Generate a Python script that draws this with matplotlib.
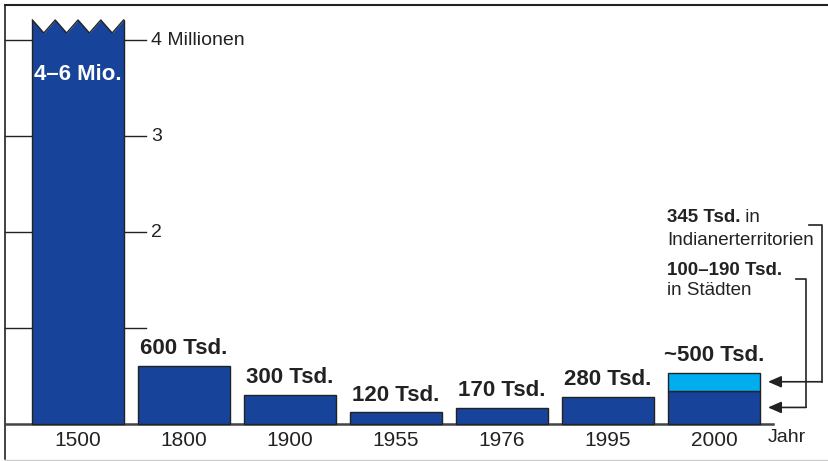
import matplotlib.pyplot as plt
import numpy as np

plt.rcParams['font.family'] = ['Liberation Sans', 'DejaVu Sans']

years = ['1500', '1800', '1900', '1955', '1976', '1995', '2000']
# population in thousands; 1500 is "4-6 Mio." and drawn truncated
values = [5000, 600, 300, 120, 170, 280, 345]
extra_2000 = 190
labels = ['4\u20136 Mio.', '600 Tsd.', '300 Tsd.', '120 Tsd.', '170 Tsd.', '280 Tsd.', '~500 Tsd.']
yticks = [1000, 2000, 3000, 4000]
ytick_labels = ['', '2', '3', '4 Millionen']
note_top = ('345 Tsd.', ' in', 'Indianerterritorien')
note_bottom = ('100\u2013190 Tsd.', 'in Städten')

dark = '#17449a'
light = '#00aeef'
ink = '#222222'

W, H = 829, 461
fig = plt.figure(figsize=(W / 100, H / 100), dpi=100)
ax = fig.add_axes([0, 0, 1, 1])

# axis scaling: 106 px per bar slot, 0.096 px per thousand
xpx, ypx = 106.0, 0.096
xmin = -78 / xpx
ymax = 424 / ypx
ax.set_xlim(xmin, xmin + W / xpx)
ax.set_ylim(ymax - H / ypx, ymax)
ax.axis('off')


def px2x(p):
    return xmin + p / xpx


def px2y(p):
    return ymax - p / ypx


x = np.arange(len(years))
width = 0.86
cap = px2y(20)
heights = [min(v, cap) for v in values]

bars = ax.bar(x, heights, width, color=dark, edgecolor=ink, linewidth=1.0, zorder=3)
ax.bar(x[-1], extra_2000, width, bottom=values[-1], color=light, edgecolor=ink,
       linewidth=1.0, zorder=3)

# zigzag cut at the top of the truncated bar
teeth = 4
left = x[0] - width / 2
zx = np.linspace(left, left + width, 2 * teeth + 1)
zy = np.where(np.arange(2 * teeth + 1) % 2 == 0, cap, px2y(33))
ax.fill_between(zx, zy, px2y(14), color='white', zorder=4, linewidth=0)
ax.plot(zx, zy, color=ink, lw=1.0, zorder=5)

# frame
ax.plot([px2x(5), px2x(W)], [px2y(5), px2y(5)], color=ink, lw=1.5, zorder=1)
ax.plot([px2x(5), px2x(5)], [px2y(5), px2y(459)], color=ink, lw=1.2, zorder=1)
ax.plot([px2x(5), px2x(W)], [px2y(459.5), px2y(459.5)], color='#cccccc', lw=1.0, zorder=1)

# baseline
ax.plot([px2x(5), px2x(773)], [0, 0], color='#444444', lw=1.8, zorder=2)

# y ticks on both sides of the first bar
for yv, lab in zip(yticks, ytick_labels):
    ax.plot([px2x(5), left], [yv, yv], color=ink, lw=1.0, zorder=2)
    ax.plot([left + width, px2x(146)], [yv, yv], color=ink, lw=1.0, zorder=2)
    if lab:
        ax.text(px2x(151), yv, lab, ha='left', va='center', fontsize=14, color=ink)

# x labels
for xi, yr in zip(x, years):
    ax.text(xi, px2y(440), yr, ha='center', va='center', fontsize=15, color=ink)
ax.text(px2x(768), px2y(437), 'Jahr', ha='left', va='center', fontsize=14, color=ink)

# value labels
ax.text(x[0], px2y(75), labels[0], ha='center', va='center', fontsize=16,
        fontweight='bold', color='white', zorder=6)
tops = heights[:-1] + [values[-1] + extra_2000]
for xi, top, lab in list(zip(x, tops, labels))[1:]:
    ax.annotate(lab, (xi, top), xytext=(0, 5), textcoords='offset points',
                ha='center', va='bottom', fontsize=16, fontweight='bold', color=ink)

# notes with brackets
tx = px2x(667)
t1 = ax.text(tx, px2y(217), note_top[0], ha='left', va='center', fontsize=13.5,
             fontweight='bold', color=ink)
ax.annotate(note_top[1], xycoords=t1, xy=(1, 0.5), va='center', ha='left',
            fontsize=13.5, color=ink)
ax.text(tx, px2y(240), note_top[2], ha='left', va='center', fontsize=13.5, color=ink)
ax.text(tx, px2y(270), note_bottom[0], ha='left', va='center', fontsize=13.5,
        fontweight='bold', color=ink)
ax.text(tx, px2y(290), note_bottom[1], ha='left', va='center', fontsize=13.5, color=ink)

y_light = values[-1] + extra_2000 / 2
y_dark = values[-1] / 2
tip = px2x(768)
for yseg, xv, ytop, xend in [(y_light, px2x(822), px2y(225), px2x(809)),
                             (y_dark, px2x(806), px2y(279), px2x(796))]:
    ax.plot([xend, xv, xv], [ytop, ytop, yseg], color=ink, lw=1.2, zorder=2)
    ax.annotate('', xy=(tip, yseg), xytext=(xv, yseg),
                arrowprops=dict(arrowstyle='-|>,head_length=0.8,head_width=0.35',
                                color=ink, lw=1.2, shrinkA=0, shrinkB=0))

plt.savefig('out.png', dpi=100)
